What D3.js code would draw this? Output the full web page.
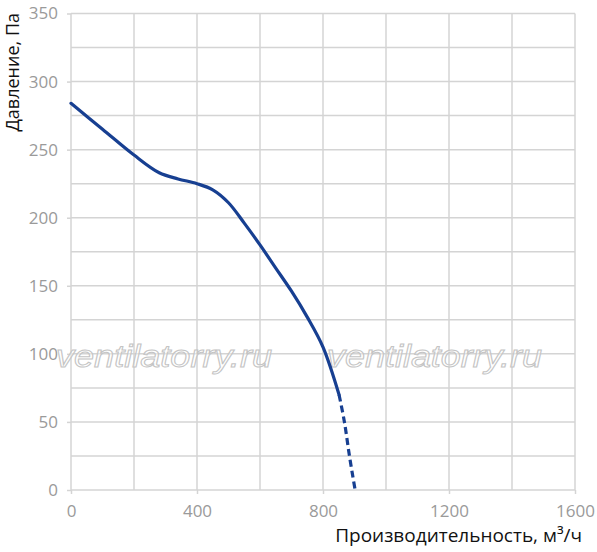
<!DOCTYPE html>
<html><head><meta charset="utf-8">
<script src="https://cdn.jsdelivr.net/npm/d3@7"></script>
<style>
body{margin:0;background:#fff;}
svg{display:block;}
</style></head>
<body>
<svg id="c" width="597" height="552"></svg>
<script>
// Data
const solidX = [0, 100, 200, 280, 340, 400, 450, 500, 550, 600, 650, 700, 750, 800, 851];
const solidY = [284, 265, 246, 233, 228.5, 225, 220.5, 211, 196, 180, 163, 146, 127, 105, 70];
const dashX = [851, 868, 884, 902];
const dashY = [70, 50, 25, 0];
const xTickLabels = [0, 400, 800, 1200, 1600];
const yTickLabels = [0, 50, 100, 150, 200, 250, 300, 350];
const xGrid = [0, 200, 400, 600, 800, 1000, 1200, 1400, 1600];
const yGrid = [0, 25, 50, 75, 100, 125, 150, 175, 200, 225, 250, 275, 300, 325, 350];
const xTitle = "Производительность, м³/ч";
const yTitle = "Давление, Па";
const watermark = "ventilatorry.ru";

const svg = d3.select("#c");
const x = d3.scaleLinear().domain([0, 1600]).range([71, 575]);
const y = d3.scaleLinear().domain([0, 350]).range([490, 13.5]);
const gridColor = "#d4d4d4";
const font = "'Open Sans', 'Noto Sans', sans-serif";

// grid
const g = svg.append("g");
g.selectAll(".vg").data(xGrid).enter().append("line")
  .attr("x1", d => x(d)).attr("x2", d => x(d))
  .attr("y1", y(350)).attr("y2", y(0))
  .attr("stroke", gridColor).attr("stroke-width", 1.5);
g.selectAll(".hg").data(yGrid).enter().append("line")
  .attr("x1", x(0)).attr("x2", x(1600))
  .attr("y1", d => y(d)).attr("y2", d => y(d))
  .attr("stroke", gridColor).attr("stroke-width", 1.5);

// axes ticks & labels
const yAxis = d3.axisLeft(y).tickValues(yTickLabels).tickFormat(d3.format("d")).tickSize(4).tickPadding(9);
const ya = svg.append("g").attr("transform", `translate(${x(0)},0)`).call(yAxis);
const xAxis = d3.axisBottom(x).tickValues(xTickLabels).tickFormat(d3.format("d")).tickSize(4).tickPadding(11);
const xa = svg.append("g").attr("transform", `translate(0,${y(0)})`).call(xAxis);
[ya, xa].forEach(a => {
  a.select(".domain").remove();
  a.selectAll(".tick line").attr("stroke", gridColor).attr("stroke-width", 1.5);
  a.selectAll(".tick text").attr("fill", "#9a9a9a").style("font-family", font).style("font-size", "17px");
});

// watermarks
[[56, 272], [327, 542]].forEach(([a, b]) => {
  svg.append("text")
    .attr("x", a).attr("y", 367)
    .attr("textLength", b - a).attr("lengthAdjust", "spacingAndGlyphs")
    .style("font-family", "'Liberation Sans', Arial, sans-serif")
    .style("font-style", "italic")
    .style("font-size", "31px")
    .attr("fill", "rgba(255,255,255,0.45)")
    .attr("stroke", "#c4c4c4").attr("stroke-width", 1)
    .text(watermark);
});

// curve
const color = "#173f91";
const line = d3.line().x(d => x(d[0])).y(d => y(d[1])).curve(d3.curveCatmullRom.alpha(0.5));
svg.append("path").datum(solidX.map((v, i) => [v, solidY[i]]))
  .attr("d", line).attr("fill", "none").attr("stroke", color)
  .attr("stroke-width", 3.2).attr("stroke-linecap", "round");
svg.append("path").datum(dashX.map((v, i) => [v, dashY[i]]))
  .attr("d", line).attr("fill", "none").attr("stroke", color)
  .attr("stroke-width", 3.2).attr("stroke-dasharray", "7,4");

// titles
svg.append("text").attr("x", 582).attr("y", 542).attr("text-anchor", "end")
  .style("font-family", font).style("font-size", "19px").attr("fill", "#111")
  .text(xTitle);
svg.append("text").attr("transform", "translate(19,13) rotate(-90)").attr("text-anchor", "end")
  .style("font-family", font).style("font-size", "18px").attr("fill", "#111")
  .text(yTitle);
</script>
</body></html>
